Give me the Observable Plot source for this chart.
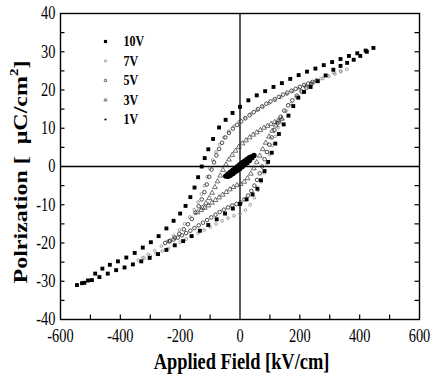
<!DOCTYPE html>
<html>
<head>
<meta charset="utf-8">
<script src="https://cdn.jsdelivr.net/npm/d3@7"></script>
<script src="https://cdn.jsdelivr.net/npm/@observablehq/plot@0.6"></script>
<style>
  html, body { margin: 0; padding: 0; background: #fff; }
  svg { display: block; }
</style>
</head>
<body>
<div id="chart"></div>
<script>
// Hysteresis loops: polarization vs applied field at several drive voltages.
// Each loop is stored as a descending branch (from +Emax) and an ascending branch (from -Emax).
// Points are [field kV/cm, polarization µC/cm²].

const up10 = [[446,31.0],[420,30.3],[392,29.6],[364,28.9],[336,28.1],[308,27.3],[280,26.5],[252,25.6],[224,24.8],[196,23.9],[168,22.9],[140,21.8],[112,20.8],[84,19.7],[56,18.6],[28,17.3],[0,15.6],[-25,14.0],[-48,12.2],[-70,10.2],[-90,7.2],[-106,4.5],[-118,2.2],[-128,0.0],[-140,-2.8],[-152,-5.5],[-166,-8.0],[-182,-10.3],[-200,-12.3],[-222,-14.2],[-246,-16.2],[-272,-18.2],[-298,-19.8],[-325,-21.2],[-352,-22.6],[-380,-23.8],[-408,-24.8],[-435,-25.7],[-460,-26.7],[-484,-28.0],[-508,-29.8],[-528,-30.5],[-545,-31.0]];
const dn10 = [[-520,-30.4],[-495,-29.7],[-470,-28.9],[-442,-28.0],[-414,-27.1],[-386,-26.4],[-358,-25.6],[-330,-24.8],[-302,-23.9],[-274,-22.9],[-246,-21.8],[-218,-20.6],[-190,-19.5],[-162,-18.2],[-134,-16.8],[-106,-15.3],[-78,-13.8],[-50,-12.3],[-24,-11.0],[0,-9.8],[22,-8.6],[42,-7.3],[58,-5.8],[70,-3.6],[82,-1.2],[94,1.2],[106,3.6],[118,6.0],[130,8.5],[146,11.0],[162,13.3],[178,15.8],[195,18.0],[214,19.5],[236,20.8],[260,22.3],[286,23.8],[312,25.3],[336,26.3],[358,27.1],[380,27.9],[402,28.9],[424,30.0]];

const up7 = [[357,25.4],[337,24.8],[317,24.2],[297,23.6],[277,23.0],[257,22.3],[237,21.7],[217,21.0],[197,20.3],[177,19.6],[157,18.9],[137,18.1],[117,17.3],[97,16.5],[77,15.6],[57,14.7],[37,13.8],[17,12.8],[-3,11.7],[-21,10.5],[-38,9.2],[-54,7.6],[-68,5.8],[-80,3.8],[-91,1.7],[-101,-0.5],[-110,-2.7],[-119,-5.0],[-129,-7.2],[-140,-9.3],[-153,-11.3],[-168,-13.2],[-185,-15.0],[-203,-16.6],[-222,-18.1],[-242,-19.5],[-263,-20.8],[-285,-22.0],[-307,-23.0],[-325,-23.8],[-340,-24.5]];
const dn7 = [[-320,-24.0],[-300,-23.4],[-280,-22.8],[-260,-22.1],[-240,-21.4],[-220,-20.6],[-200,-19.8],[-180,-19.0],[-160,-18.2],[-140,-17.4],[-120,-16.6],[-100,-15.8],[-80,-15.0],[-60,-14.2],[-40,-13.5],[-20,-12.9],[0,-12.3],[18,-11.4],[34,-10.0],[48,-8.2],[60,-6.2],[71,-4.0],[81,-1.7],[90,0.7],[99,3.1],[108,5.5],[118,7.9],[128,10.2],[140,12.4],[154,14.5],[170,16.4],[188,18.1],[207,19.6],[227,20.9],[248,22.0],[270,23.0],[292,23.8],[314,24.5],[336,25.0]];

const up5 = [[256,22.5],[242,22.1],[228,21.7],[214,21.3],[200,20.8],[186,20.3],[172,19.8],[158,19.3],[144,18.8],[130,18.2],[116,17.6],[102,17.0],[88,16.4],[74,15.7],[60,15.0],[46,14.2],[32,13.4],[18,12.6],[4,11.8],[-10,10.9],[-24,9.9],[-37,8.8],[-49,7.6],[-60,6.2],[-70,4.6],[-79,2.9],[-87,1.1],[-95,-0.8],[-103,-2.7],[-111,-4.7],[-119,-6.7],[-128,-8.6],[-138,-10.4],[-149,-12.1],[-161,-13.7],[-174,-15.1],[-188,-16.4],[-203,-17.6],[-218,-18.6],[-234,-19.4],[-250,-20.0]];
const dn5 = [[-236,-19.6],[-222,-19.1],[-208,-18.6],[-194,-18.0],[-180,-17.4],[-166,-16.8],[-152,-16.1],[-138,-15.4],[-124,-14.7],[-110,-14.0],[-96,-13.3],[-82,-12.6],[-68,-11.9],[-54,-11.3],[-40,-10.7],[-26,-10.2],[-12,-9.8],[2,-9.4],[15,-8.6],[27,-7.6],[38,-6.4],[48,-5.0],[57,-3.5],[66,-1.8],[74,0.0],[82,1.9],[90,3.8],[98,5.7],[106,7.6],[115,9.5],[125,11.3],[136,13.0],[148,14.6],[161,16.0],[175,17.3],[190,18.5],[206,19.6],[222,20.6],[239,21.6]];

const up3 = [[140,12.5],[128,12.1],[116,11.6],[104,11.1],[92,10.6],[80,10.1],[68,9.5],[56,8.9],[44,8.3],[32,7.6],[20,6.8],[8,6.0],[-4,5.1],[-15,4.1],[-26,3.0],[-37,1.8],[-47,0.5],[-57,-0.9],[-66,-2.4],[-75,-3.9],[-84,-5.4],[-93,-6.9],[-103,-8.3],[-114,-9.6],[-126,-10.8],[-142,-12.0]];
const dn3 = [[-130,-11.4],[-118,-10.8],[-106,-10.2],[-94,-9.5],[-82,-8.8],[-70,-8.1],[-58,-7.4],[-46,-6.7],[-34,-6.0],[-22,-5.4],[-10,-4.9],[2,-4.6],[14,-4.0],[25,-3.1],[36,-1.9],[46,-0.5],[56,1.1],[66,2.8],[76,4.5],[86,6.2],[97,7.8],[108,9.3],[120,10.7],[130,11.7]];

const up1 = [[47,2.9],[39,2.6],[31,2.3],[23,1.9],[15,1.4],[7,1.0],[-1,0.5],[-9,0.0],[-17,-0.5],[-25,-1.0],[-33,-1.5],[-41,-2.0],[-48,-2.5]];
const dn1 = [[-40,-2.6],[-32,-2.3],[-24,-1.9],[-16,-1.4],[-8,-1.0],[0,-0.5],[8,0.0],[16,0.5],[24,1.0],[32,1.6],[40,2.3]];

const voltages = ["10V", "7V", "5V", "3V", "1V"];
const loops = {"10V": [up10, dn10], "7V": [up7, dn7], "5V": [up5, dn5], "3V": [up3, dn3], "1V": [up1, dn1]};

const xTickLabels = [-600, -400, -200, 0, 200, 400, 600];
const yTickLabels = [-40, -30, -20, -10, 0, 10, 20, 30, 40];
const xMinorTicks = [-500, -400, -300, -200, -100, 100, 200, 300, 400, 500];
const yMinorTicks = [-35, -30, -25, -20, -15, -10, -5, 5, 10, 15, 20, 25, 30, 35];

// marker styling per voltage
const markerStyle = {
  "10V": {symbol: "square",   r: 2.2, fill: "black", stroke: "none", strokeWidth: 0},
  "7V":  {symbol: "circle",   r: 1.4, fill: "none",  stroke: "#8c8c8c", strokeWidth: 0.8},
  "5V":  {symbol: "circle",   r: 1.8, fill: "none",  stroke: "#222", strokeWidth: 0.8},
  "3V":  {symbol: "triangle", r: 1.8, fill: "none",  stroke: "#333", strokeWidth: 0.7},
  "1V":  {symbol: "circle",   r: 2.6, fill: "black", stroke: "none", strokeWidth: 0}
};
const legendSize = {"10V": 1.8, "7V": 1.1, "5V": 1.2, "3V": 1.2, "1V": 1.1};
const drawOrder = ["7V", "5V", "3V", "10V", "1V"];

const W = 432, H = 376, ML = 60, MR = 13, MT = 13, MB = 57;
const innerW = W - ML - MR, innerH = H - MT - MB;
const tickLen = 4.5;

const rows = voltages.flatMap(v => loops[v].flatMap(branch => branch.map(([E, P]) => ({v, E, P}))));

const dotMarks = drawOrder.map(v => {
  const s = markerStyle[v];
  return Plot.dot(rows.filter(d => d.v === v), {x: "E", y: "P", symbol: s.symbol, r: s.r, fill: s.fill, stroke: s.stroke, strokeWidth: s.strokeWidth});
});

const legendMarks = voltages.flatMap((v, i) => {
  const s = markerStyle[v];
  const dy = 28 + 19.5 * i;
  return [
    Plot.dot([v], {frameAnchor: "top-left", dx: 45, dy, symbol: s.symbol, r: legendSize[v], fill: s.fill, stroke: s.stroke, strokeWidth: s.strokeWidth}),
    Plot.text([v], {frameAnchor: "top-left", dx: 63, dy, text: d => d, textAnchor: "start", lineAnchor: "middle", fontWeight: "bold", fontSize: 15})
  ];
});

const svg = Plot.plot({
  width: W, height: H,
  marginLeft: ML, marginRight: MR, marginTop: MT, marginBottom: MB,
  style: {fontFamily: "'Liberation Serif', 'Times New Roman', serif", fontSize: "18px", background: "white", color: "black"},
  x: {domain: [-600, 600]},
  y: {domain: [-40, 40]},
  marks: [
    Plot.ruleY([0], {stroke: "black", strokeWidth: 1.3}),
    Plot.ruleX([0], {stroke: "black", strokeWidth: 1.3}),
    Plot.tickX(xMinorTicks, {x: d => d, insetTop: innerH - tickLen, stroke: "black", strokeWidth: 1.2}),
    Plot.tickY(yMinorTicks, {y: d => d, insetRight: innerW - tickLen, stroke: "black", strokeWidth: 1.2}),
    Plot.tickY(yMinorTicks, {y: d => d, insetLeft: innerW - tickLen, stroke: "black", strokeWidth: 1.2}),
    Plot.axisX({ticks: xTickLabels, tickSize: 0, tickPadding: 10, tickFormat: d => String(d), label: null}),
    Plot.axisY({ticks: yTickLabels, tickSize: 0, tickPadding: 5, tickFormat: d => String(d), label: null}),
    ...dotMarks,
    ...legendMarks,
    Plot.frame({stroke: "black", strokeWidth: 1.4})
  ]
});

// the typeface in this figure is narrow: compress every label horizontally about its anchor
function squeeze(el, s) {
  const x = +el.getAttribute("x") || 0, y = +el.getAttribute("y") || 0;
  const t = el.getAttribute("transform") || "";
  el.setAttribute("transform", `${t} translate(${x},${y}) scale(${s},1) translate(${-x},${-y})`);
}
d3.select(svg).selectAll("text").each(function () { squeeze(this, 0.8); });

const root = d3.select(svg);

// x-axis title
root.append("text")
  .attr("transform", `translate(${ML + innerW / 2 + 2},369) scale(0.8,1)`)
  .attr("text-anchor", "middle")
  .attr("font-weight", "bold")
  .attr("font-size", 23)
  .attr("fill", "black")
  .text("Applied Field [kV/cm]");

// y-axis title, with superscript
const yt = root.append("text")
  .attr("transform", `translate(27,${MT + innerH / 2 + 6}) scale(0.8,1) rotate(-90)`)
  .attr("text-anchor", "middle")
  .attr("font-weight", "bold")
  .attr("font-size", 24)
  .attr("fill", "black");
yt.append("tspan").text("Polrization [\u00a0 μC/cm");
yt.append("tspan").attr("font-size", 15).attr("dy", -11).text("2");
yt.append("tspan").attr("dy", 11).text("]");

document.getElementById("chart").appendChild(svg);
</script>
</body>
</html>
